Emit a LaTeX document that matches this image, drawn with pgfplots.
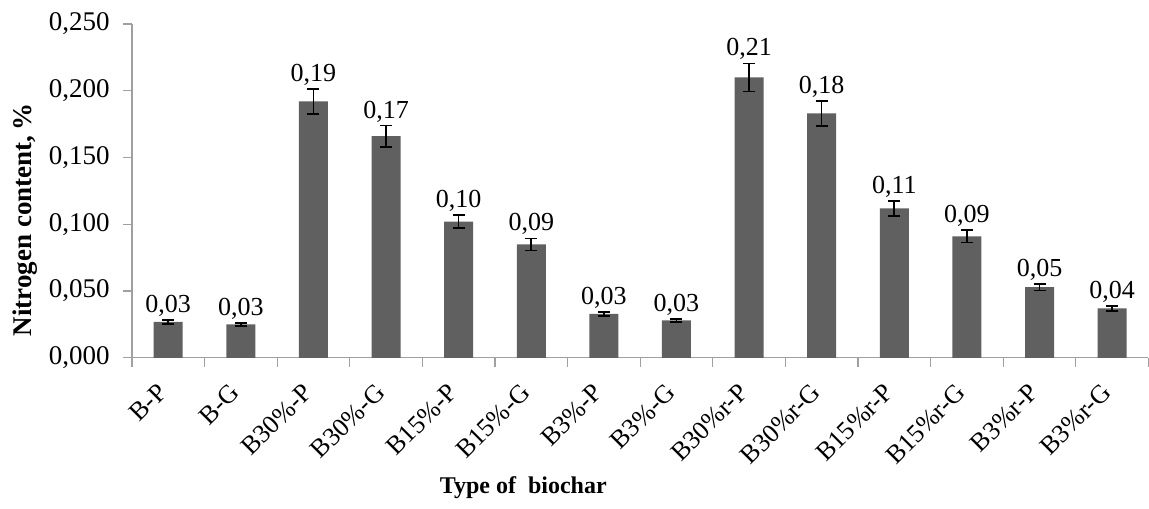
\documentclass[border=0pt]{standalone}
\usepackage{pgfplots}
\pgfplotsset{compat=1.18}
\usepackage{pgfplotstable}
\usepackage{fontspec}
\setmainfont{Liberation Serif}
\usetikzlibrary{calc}
\definecolor{barc}{HTML}{606060}
\definecolor{axc}{HTML}{A0A0A0}

\pgfplotstableread{
x y err lab
0 0.027 0.0015 0.03
1 0.025 0.0012 0.03
2 0.192 0.0095 0.19
3 0.166 0.0080 0.17
4 0.102 0.0050 0.10
5 0.085 0.0045 0.09
6 0.033 0.0015 0.03
7 0.028 0.0012 0.03
8 0.210 0.0105 0.21
9 0.183 0.0093 0.18
10 0.112 0.0056 0.11
11 0.091 0.0046 0.09
12 0.053 0.0025 0.05
13 0.037 0.0020 0.04
}\datatab

\begin{document}
\begin{tikzpicture}
\begin{axis}[
  name=ax,
  scale only axis,
  width=508.5pt, height=167pt,
  xmin=-0.5, xmax=13.5,
  ymin=0, ymax=0.25,
  clip=false,
  axis x line*=bottom,
  axis y line*=left,
  axis line style={-, draw=axc, line width=0.6pt},
  xtick={0,...,13},
  xticklabels={B-P, B-G, B30\%-P, B30\%-G, B15\%-P, B15\%-G, B3\%-P, B3\%-G, B30\%r-P, B30\%r-G, B15\%r-P, B15\%r-G, B3\%r-P, B3\%r-G},
  minor xtick={-0.5,0.5,...,13.5},
  major x tick style={draw=none},
  minor x tick style={draw=axc, line width=0.6pt},
  minor tick length=4.5pt,
  ytick={0,0.05,0.1,0.15,0.2,0.25},
  yticklabel={\pgfmathprintnumber[fixed,fixed zerofill,precision=3,use comma,assume math mode=true]{\tick}},
  major y tick style={draw=axc, line width=0.6pt},
  major tick length=4.5pt,
  tick align=outside,
  yticklabel style={font=\fontsize{13.5}{15}\selectfont, inner sep=2pt, xshift=-4.5pt},
  xticklabel style={font=\fontsize{13}{15}\selectfont, xshift=-6pt, yshift=-6pt, rotate=45, anchor=north east, inner sep=1pt},
  xlabel={\bfseries Type of\ \ biochar},
  xlabel style={font=\fontsize{12}{14}\selectfont, at={(axis description cs:0.385,-0.407)}, anchor=base},
  ylabel={\bfseries Nitrogen content,\kern2.5pt\%},
  ylabel style={font=\fontsize{13.5}{15}\selectfont, at={(axis description cs:-0.105,0.413)}, anchor=center},
]
\addplot[ybar, bar width=14.5pt, bar shift=0pt, fill=barc, draw=none,
  error bars/.cd, y dir=both, y explicit,
  error bar style={black, line width=0.8pt},
  error mark options={rotate=90, black, mark size=3pt, line width=0.8pt}]
  table[x=x, y=y, y error=err]{\datatab};
\addplot[draw=none, point meta=explicit,
  nodes near coords={\pgfmathprintnumber[fixed,fixed zerofill,precision=2,use comma,assume math mode=true]{\pgfplotspointmeta}},
  every node near coord/.append style={font=\fontsize{13}{15}\selectfont, inner sep=1.5pt, anchor=south}]
  table[x=x, y expr=\thisrow{y}+\thisrow{err}, meta=lab]{\datatab};
\end{axis}
\path ($(ax.south west)+(-66pt,-75.5pt)$) rectangle ($(ax.north east)+(0pt,12pt)$);
\end{tikzpicture}
\end{document}
